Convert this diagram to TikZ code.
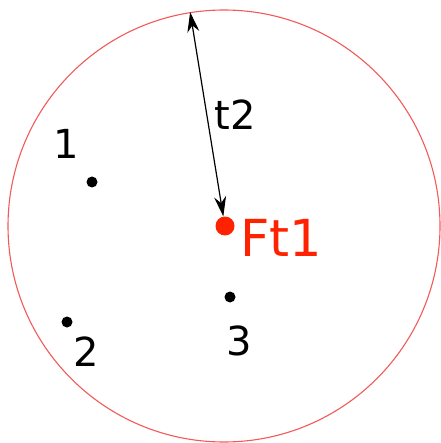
\documentclass[tikz,border=0pt]{standalone}
\usepackage{fontspec}
\setsansfont{DejaVu Sans}
\usetikzlibrary{arrows.meta}

\definecolor{ftred}{RGB}{255,34,0}
\definecolor{ringred}{RGB}{242,90,90}

\begin{document}
\begin{tikzpicture}[x=1pt,y=-1pt,
        ring/.style={
            circle,
            draw=ringred,
            line width=1.1pt,
            inner sep=0pt,
            minimum size=432pt
        },
        dot/.style={
            circle,
            fill=black,
            inner sep=0pt,
            minimum size=11pt
        },
        bigdot/.style={
            circle,
            fill=ftred,
            inner sep=0pt,
            minimum size=19pt
        },
        lbl/.style={
            font=\sffamily\fontsize{40}{48}\selectfont,
            inner sep=0pt
        },
        arrow/.style={{Stealth[length=20pt,width=12pt]}-{Stealth[length=20pt,width=12pt]}, line width=1.2pt}
    ]
        \useasboundingbox (0,0) rectangle (440,443);

        % range circle and centre
        \node[ring] (field) at (224,226) {};
        \node[bigdot] (ft) at (225,226) {};
        \node[lbl, text=ftred, font=\sffamily\fontsize{51}{60}\selectfont] (ftlbl) at (281,238) {Ft1};

        % points
        \node[dot] (p1) at (92,182) {};
        \node[dot] (p2) at (67,322) {};
        \node[dot] (p3) at (230,297) {};
        \node[lbl] (l1) at (66,144) {1};
        \node[lbl] (l2) at (86,352) {2};
        \node[lbl] (l3) at (239,341) {3};

        % radius
        \draw[arrow] (ft.100) -- node[lbl, pos=0.5, right=7pt] (t2) {t2} (field.99);
    \end{tikzpicture}
\end{document}
